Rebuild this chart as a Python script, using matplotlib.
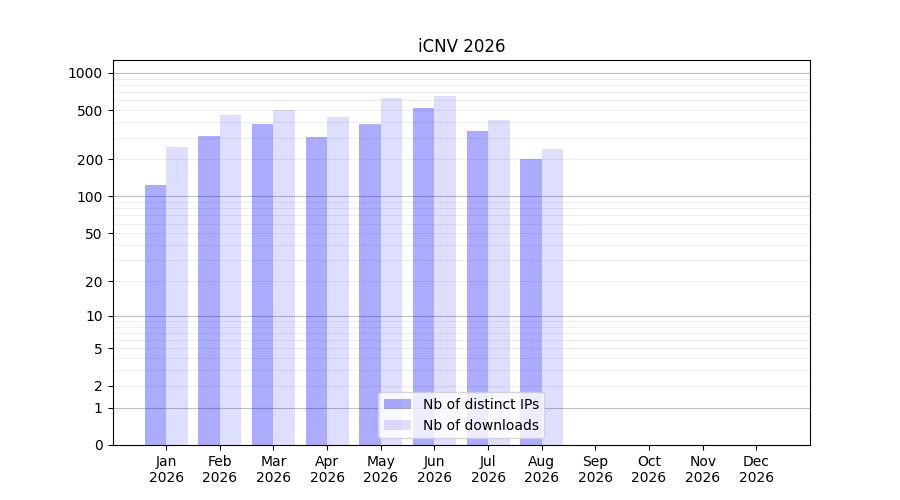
import numpy as np
import matplotlib
matplotlib.use("Agg")
import matplotlib.pyplot as plt

MONTHS = ["Jan", "Feb", "Mar", "Apr", "May", "Jun", "Jul", "Aug", "Sep", "Oct", "Nov", "Dec"]
YEAR = 2026
IPS = [124, 310, 388, 304, 386, 522, 340, 202, 0, 0, 0, 0]
DOWNLOADS = [252, 459, 503, 442, 628, 652, 417, 243, 0, 0, 0, 0]
YTICKS = [0, 1, 2, 5, 10, 20, 50, 100, 200, 500, 1000]


def _fwd(v):
    return np.log10(np.asarray(v, dtype=float) + 1)


def _inv(v):
    return 10 ** np.asarray(v, dtype=float) - 1


fig, ax = plt.subplots(figsize=(9, 5), dpi=100)
ax.set_yscale("function", functions=(_fwd, _inv))

x = np.arange(len(MONTHS))
ax.bar(x - 0.2, IPS, width=0.4, color=(0, 0, 1, 0.33), label="Nb of distinct IPs", zorder=2)
ax.bar(x + 0.2, DOWNLOADS, width=0.4, color=(0, 0, 1, 0.13), label="Nb of downloads", zorder=2)

# grid: darker at powers of ten, faint at the in-between multiples
for dec in (1, 10, 100, 1000):
    ax.axhline(dec, color="gray", lw=0.8, alpha=0.5, zorder=1)
    if dec < 1000:
        for k in range(2, 10):
            ax.axhline(dec * k, color="gray", lw=0.8, alpha=0.13, zorder=1)

ax.set_xlim(-1, 12)
ax.set_ylim(0, 1270)
ax.set_yticks(YTICKS)
ax.set_yticklabels([str(v) for v in YTICKS])
ax.minorticks_off()
ax.set_xticks(x)
ax.set_xticklabels([f"{m}\n{YEAR}" for m in MONTHS])
ax.set_title(f"iCNV {YEAR}")
ax.legend(loc="lower center")

fig.savefig("out.png")
